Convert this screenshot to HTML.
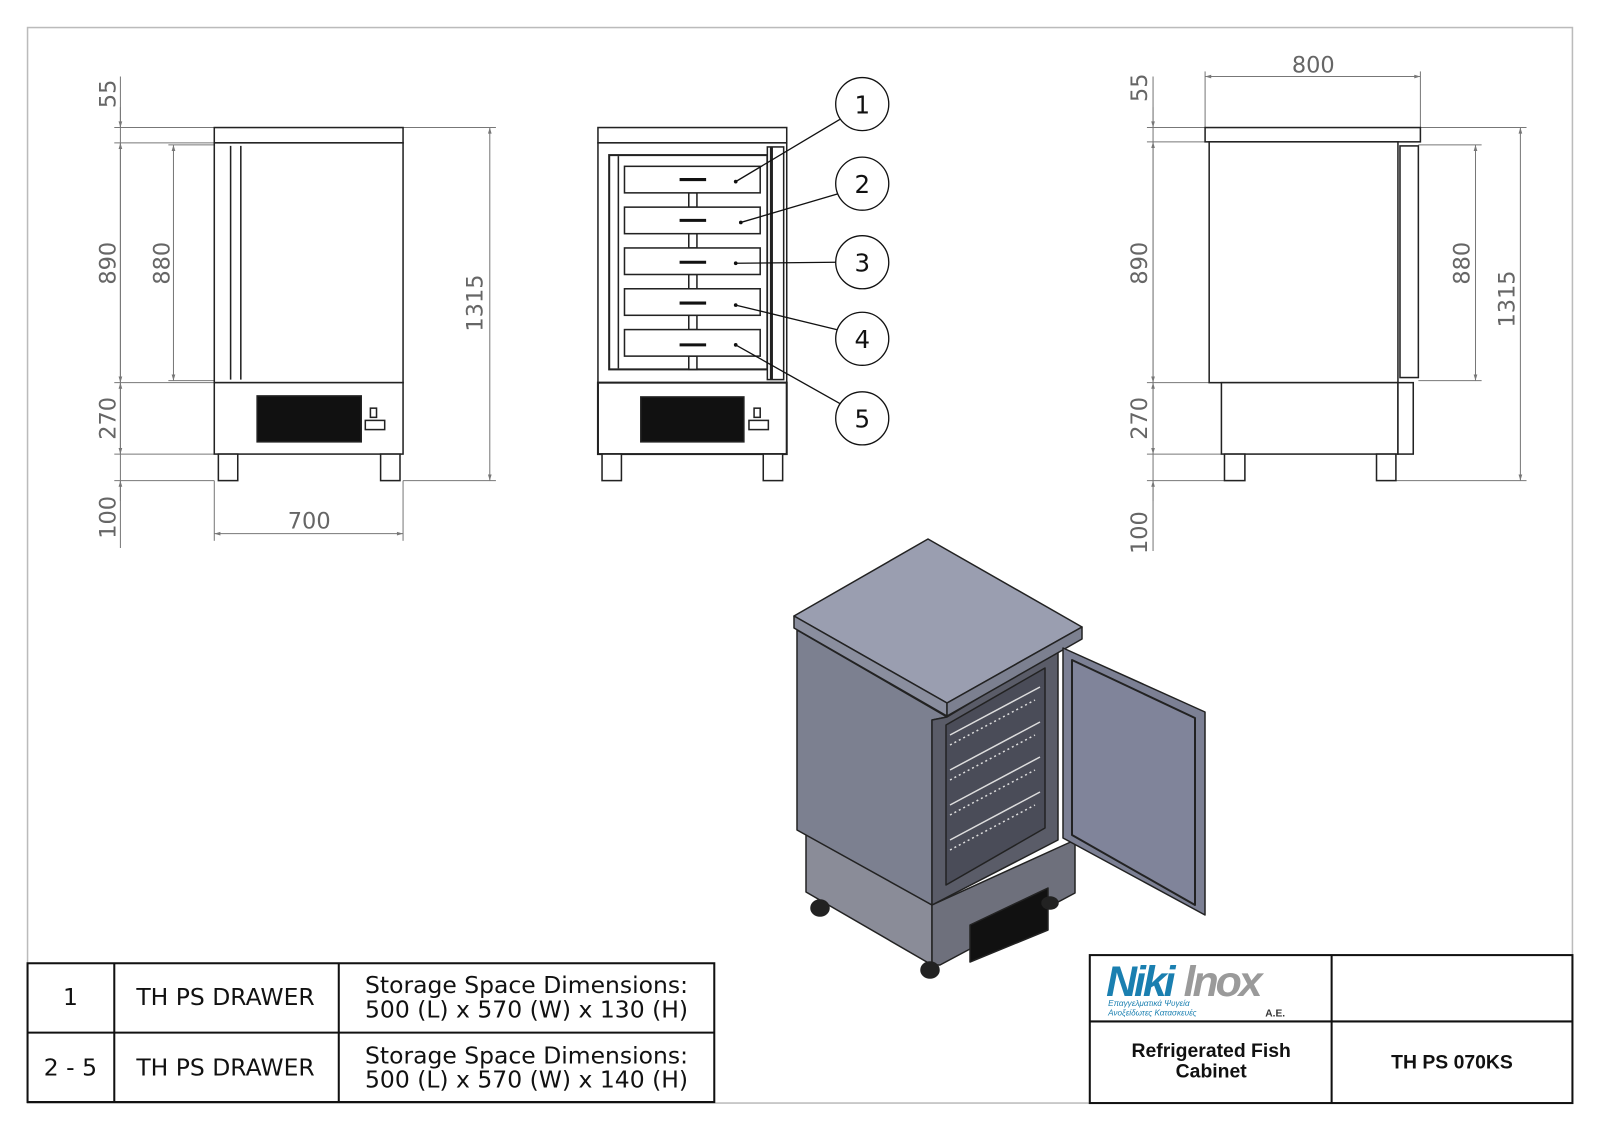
<!DOCTYPE html>
<html><head><meta charset="utf-8"><style>
html,body{margin:0;padding:0;background:#fff}
svg{display:block}
.d{font-family:"DejaVu Sans","Liberation Sans",sans-serif;fill:#666;font-size:22px}
.t{font-family:"Liberation Sans",sans-serif;fill:#111}
</style></head><body>
<svg width="1600" height="1131" viewBox="0 0 1600 1131" xmlns="http://www.w3.org/2000/svg">
<defs>
<marker id="a" viewBox="0 0 10 10" refX="10" refY="5" markerWidth="9" markerHeight="6" orient="auto-start-reverse" markerUnits="userSpaceOnUse"><path d="M0,2 L10,5 L0,8 z" fill="#777"/></marker>
</defs>
<g transform="scale(1.0204)">
<rect x="27" y="27" width="1514" height="1054" fill="none" stroke="#bbb" stroke-width="1.5"/>
<g stroke="#777" stroke-width="1" fill="none">
<line x1="118" y1="75" x2="118" y2="537"/>
<line x1="118" y1="105" x2="118" y2="125" marker-end="url(#a)"/>
<line x1="118" y1="140" x2="118" y2="375" marker-start="url(#a)" marker-end="url(#a)"/>
<line x1="118" y1="375" x2="118" y2="445" marker-start="url(#a)" marker-end="url(#a)"/>
<line x1="118" y1="491" x2="118" y2="471" marker-end="url(#a)"/>
<line x1="112" y1="125" x2="210" y2="125"/><line x1="112" y1="140" x2="210" y2="140"/>
<line x1="112" y1="375" x2="210" y2="375"/><line x1="112" y1="445" x2="210" y2="445"/><line x1="112" y1="471" x2="210" y2="471"/>
<line x1="170" y1="142" x2="170" y2="373" marker-start="url(#a)" marker-end="url(#a)"/><line x1="165" y1="142" x2="210" y2="142"/><line x1="165" y1="373" x2="210" y2="373"/>
<line x1="480" y1="125" x2="480" y2="471" marker-start="url(#a)" marker-end="url(#a)"/><line x1="395" y1="125" x2="486" y2="125"/><line x1="395" y1="471" x2="486" y2="471"/>
<line x1="210" y1="523" x2="395" y2="523" marker-start="url(#a)" marker-end="url(#a)"/><line x1="210" y1="471" x2="210" y2="530"/><line x1="395" y1="471" x2="395" y2="530"/>
<line x1="1130" y1="75" x2="1130" y2="540"/>
<line x1="1130" y1="105" x2="1130" y2="125" marker-end="url(#a)"/>
<line x1="1130" y1="139" x2="1130" y2="375" marker-start="url(#a)" marker-end="url(#a)"/>
<line x1="1130" y1="375" x2="1130" y2="445" marker-start="url(#a)" marker-end="url(#a)"/>
<line x1="1130" y1="491" x2="1130" y2="471" marker-end="url(#a)"/>
<line x1="1124" y1="125" x2="1185" y2="125"/><line x1="1124" y1="139" x2="1185" y2="139"/>
<line x1="1124" y1="375" x2="1197" y2="375"/><line x1="1124" y1="445" x2="1197" y2="445"/><line x1="1124" y1="471" x2="1200" y2="471"/>
<line x1="1446" y1="142" x2="1446" y2="373" marker-start="url(#a)" marker-end="url(#a)"/><line x1="1390" y1="142" x2="1452" y2="142"/><line x1="1390" y1="373" x2="1452" y2="373"/>
<line x1="1490" y1="125" x2="1490" y2="471" marker-start="url(#a)" marker-end="url(#a)"/><line x1="1392" y1="125" x2="1496" y2="125"/><line x1="1368" y1="471" x2="1496" y2="471"/>
<line x1="1181" y1="75" x2="1392" y2="75" marker-start="url(#a)" marker-end="url(#a)"/><line x1="1181" y1="70" x2="1181" y2="125"/><line x1="1392" y1="70" x2="1392" y2="125"/>
</g>
<g class="d" text-anchor="middle">
<text transform="translate(113,92) rotate(-90)">55</text>
<text transform="translate(113,258) rotate(-90)">890</text>
<text transform="translate(166,258) rotate(-90)">880</text>
<text transform="translate(113,410) rotate(-90)">270</text>
<text transform="translate(113,507) rotate(-90)">100</text>
<text transform="translate(473,297) rotate(-90)">1315</text>
<text x="303" y="518">700</text>
<text transform="translate(1124,86) rotate(-90)">55</text>
<text transform="translate(1124,258) rotate(-90)">890</text>
<text transform="translate(1124,410) rotate(-90)">270</text>
<text transform="translate(1124,522) rotate(-90)">100</text>
<text transform="translate(1440,258) rotate(-90)">880</text>
<text transform="translate(1484,293) rotate(-90)">1315</text>
<text x="1287" y="71">800</text>
</g>
<g stroke="#222" stroke-width="1.5" fill="#fff">
<rect x="210" y="125" width="185" height="15"/>
<rect x="210" y="140" width="185" height="235"/>
<line x1="226" y1="143" x2="226" y2="372"/><line x1="236" y1="143" x2="236" y2="372"/>
<rect x="210" y="375" width="185" height="70"/>
<rect x="252" y="388" width="102" height="45" fill="#111"/>
<rect x="363" y="400" width="6" height="9"/><rect x="358" y="412" width="19" height="9"/>
<rect x="214" y="445" width="19" height="26"/><rect x="373" y="445" width="19" height="26"/>
</g>
<g stroke="#222" stroke-width="1.5" fill="#fff">
<rect x="586" y="125" width="185" height="15"/>
<rect x="586" y="140" width="185" height="235"/>
<rect x="597" y="152" width="155" height="210" stroke-width="2"/>
<line x1="606" y1="153" x2="606" y2="361"/>
<rect x="752" y="144" width="16" height="228"/>
<line x1="756" y1="144" x2="756" y2="372" stroke-width="3"/>
<rect x="675" y="189" width="8" height="14"/><rect x="675" y="229" width="8" height="14"/><rect x="675" y="269" width="8" height="14"/><rect x="675" y="309" width="8" height="14"/><rect x="675" y="349" width="8" height="13"/>
<rect x="612" y="163" width="133" height="26"/><rect x="612" y="203" width="133" height="26"/><rect x="612" y="243" width="133" height="26"/><rect x="612" y="283" width="133" height="26"/><rect x="612" y="323" width="133" height="26"/>
<rect x="586" y="375" width="185" height="70" stroke-width="2"/>
<rect x="628" y="389" width="101" height="44" fill="#111"/>
<rect x="739" y="400" width="6" height="9"/><rect x="734" y="412" width="19" height="9"/>
<rect x="590" y="445" width="19" height="26"/><rect x="748" y="445" width="19" height="26"/>
</g>
<g stroke="#111" stroke-width="3">
<line x1="666" y1="176" x2="692" y2="176"/><line x1="666" y1="216" x2="692" y2="216"/><line x1="666" y1="257" x2="692" y2="257"/><line x1="666" y1="297" x2="692" y2="297"/><line x1="666" y1="338" x2="692" y2="338"/>
</g>
<g fill="#111"><circle cx="721" cy="178" r="1.8"/><circle cx="726" cy="218" r="1.8"/><circle cx="721" cy="258" r="1.8"/><circle cx="721" cy="299" r="1.8"/><circle cx="721" cy="338" r="1.8"/></g>
<g stroke="#111" stroke-width="1.3" fill="none">
<line x1="721" y1="178" x2="823" y2="117"/><line x1="726" y1="218" x2="821" y2="190"/><line x1="721" y1="258" x2="819" y2="257"/><line x1="721" y1="299" x2="820" y2="323"/><line x1="721" y1="338" x2="824" y2="396"/>
<circle cx="845" cy="102" r="26" fill="#fff"/><circle cx="845" cy="180" r="26" fill="#fff"/><circle cx="845" cy="257" r="26" fill="#fff"/><circle cx="845" cy="332" r="26" fill="#fff"/><circle cx="845" cy="410" r="26" fill="#fff"/>
</g>
<g class="d" style="fill:#111;font-size:24px" text-anchor="middle">
<text x="845" y="111">1</text><text x="845" y="189">2</text><text x="845" y="266">3</text><text x="845" y="341">4</text><text x="845" y="419">5</text>
</g>
<g stroke="#222" stroke-width="1.5" fill="#fff">
<rect x="1181" y="125" width="211" height="14"/>
<rect x="1185" y="139" width="185" height="236"/>
<rect x="1372" y="143" width="18" height="227"/>
<rect x="1197" y="375" width="173" height="70"/>
<rect x="1370" y="375" width="15" height="70"/>
<rect x="1200" y="445" width="20" height="26"/><rect x="1349" y="445" width="19" height="26"/>
</g>
<g stroke="#111" stroke-width="2" fill="none">
<rect x="27" y="944" width="673" height="136"/>
<line x1="27" y1="1012" x2="700" y2="1012"/>
<line x1="112" y1="944" x2="112" y2="1080"/><line x1="332" y1="944" x2="332" y2="1080"/>
<rect x="1068" y="936" width="473" height="145"/>
<line x1="1068" y1="1001" x2="1541" y2="1001"/><line x1="1305" y1="936" x2="1305" y2="1081"/>
</g>
<g class="d" style="fill:#111;font-size:23px" text-anchor="middle">
<text x="69" y="985">1</text><text x="69" y="1054">2 - 5</text>
<text x="221" y="985">TH PS DRAWER</text><text x="221" y="1054">TH PS DRAWER</text>
<text x="516" y="973">Storage Space Dimensions:</text><text x="516" y="997">500 (L) x 570 (W) x 130 (H)</text>
<text x="516" y="1042">Storage Space Dimensions:</text><text x="516" y="1066">500 (L) x 570 (W) x 140 (H)</text>
</g>
<g class="t" text-anchor="middle" font-weight="bold" font-size="19">
<text x="1187" y="1036">Refrigerated Fish</text><text x="1187" y="1056">Cabinet</text>
<text x="1423" y="1047">TH PS 070KS</text>
</g>
<text x="1084" y="976" font-family="Liberation Sans,sans-serif" font-size="42" font-weight="bold" font-style="italic" fill="#1a7fb0" letter-spacing="-3">Niki</text>
<text x="1160" y="976" font-family="Liberation Sans,sans-serif" font-size="42" font-weight="bold" font-style="italic" fill="#9a9a9a" letter-spacing="-3">lnox</text>
<text x="1086" y="986" font-family="Liberation Sans,sans-serif" font-size="8" font-style="italic" fill="#1a7fb0">Επαγγελματικά Ψυγεία</text>
<text x="1086" y="995" font-family="Liberation Sans,sans-serif" font-size="8" font-style="italic" fill="#1a7fb0">Ανοξείδωτες Κατασκευές</text>
<text x="1240" y="996" font-family="Liberation Sans,sans-serif" font-size="10" font-weight="bold" fill="#333">A.E.</text>
</g>
<g stroke="#222" stroke-width="1.5" stroke-linejoin="round">
<polygon points="806,833 932,905 932,965 806,892" fill="#8a8c98"/>
<polygon points="932,905 1075,840 1075,893 940,965 932,965" fill="#6e707c"/>
<polygon points="970,925 1048,888 1048,930 970,962" fill="#111"/>
<polygon points="797,630 947,717 932,720 932,905 797,830" fill="#7c8090"/>
<polygon points="932,720 947,717 1058,650 1058,840 932,905" fill="#5a5c68"/>
<polygon points="946,725 1045,668 1045,828 946,885" fill="#4a4c58"/>
<polygon points="794,616 928,539 1082,627 947,703" fill="#9a9eb0"/>
<polygon points="794,616 947,703 947,716 794,628" fill="#8a8e9e"/>
<polygon points="947,703 1082,627 1082,639 947,716" fill="#7c8090"/>
<polygon points="1063,648 1205,712 1205,915 1063,838" fill="#7c8094"/>
<polygon points="1072,660 1195,718 1195,905 1072,835" fill="#80849a" stroke-width="2"/>
<ellipse cx="820" cy="908" rx="9" ry="8" fill="#222"/>
<ellipse cx="930" cy="970" rx="9" ry="8" fill="#222"/>
<ellipse cx="1050" cy="903" rx="8" ry="6" fill="#222"/>
</g>
<g stroke="#ddd" stroke-width="1.5" fill="none">
<polyline points="950,735 1040,687"/><polyline points="950,770 1040,722"/><polyline points="950,805 1040,757"/><polyline points="950,840 1040,792"/>
<polyline points="950,745 1035,700" stroke-dasharray="2 3"/><polyline points="950,780 1035,735" stroke-dasharray="2 3"/><polyline points="950,815 1035,770" stroke-dasharray="2 3"/><polyline points="950,850 1035,805" stroke-dasharray="2 3"/>
</g>
</svg>
</body></html>
